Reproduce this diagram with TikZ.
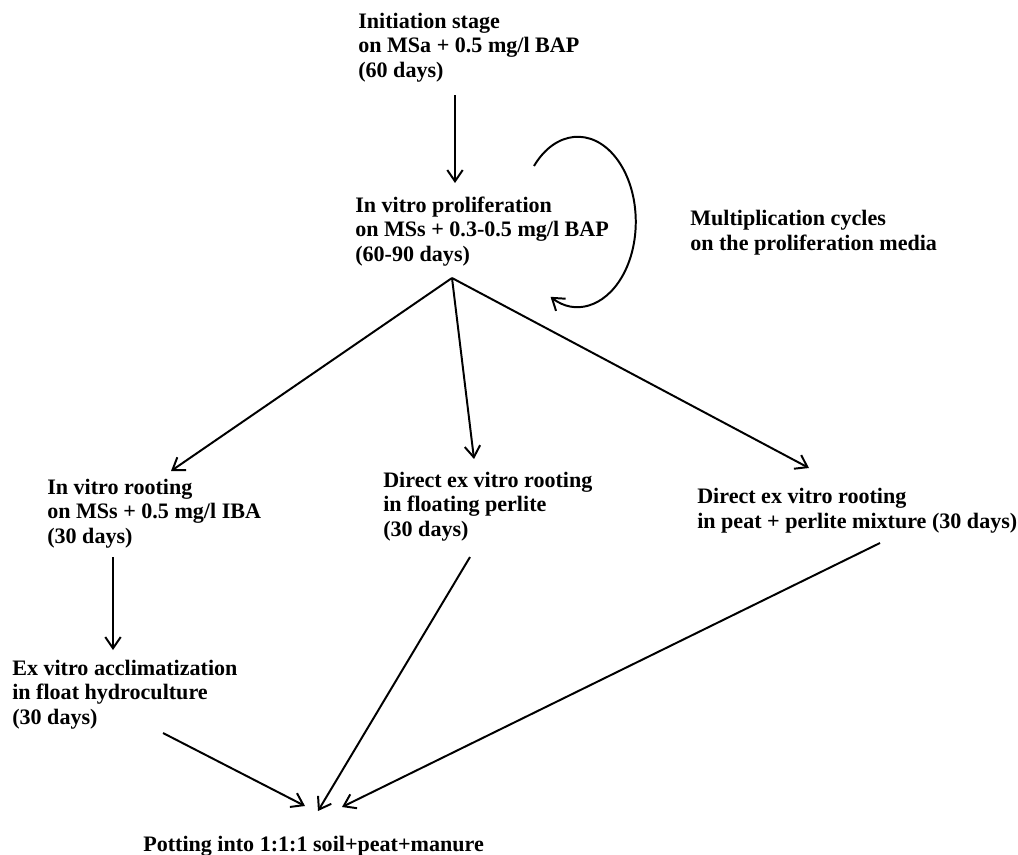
\documentclass[tikz,border=0pt]{standalone}
\usepackage{fontspec}
\setmainfont{Liberation Serif}
\usetikzlibrary{arrows.meta}

\begin{document}
\begin{tikzpicture}[x=0.025cm, y=-0.025cm, >={Straight Barb[length=8pt,width=11pt]},
  lbl/.style={anchor=base west, align=left, inner sep=0pt, font=\fontsize{15.7}{17.4}\selectfont\bfseries},
  flow/.style={->, line width=1.4pt}]

\useasboundingbox (0,0) rectangle (1018,854);

\node[lbl] (init) at (358,77) {Initiation stage\\on MSa + 0.5 mg/l BAP\\(60 days)};
\node[lbl] (prolif) at (355,261) {In vitro proliferation\\on MSs + 0.3-0.5 mg/l BAP\\(60-90 days)};
\node[lbl] (cycles) at (690,250) {Multiplication cycles\\on the proliferation media};
\node[lbl] (invitro) at (47,543) {In vitro rooting\\on MSs + 0.5 mg/l IBA\\(30 days)};
\node[lbl] (perlite) at (383,536) {Direct ex vitro rooting\\in floating perlite\\(30 days)};
\node[lbl] (peat) at (697,528) {Direct ex vitro rooting\\in peat + perlite mixture (30 days)};
\node[lbl] (acclim) at (12,724) {Ex vitro acclimatization\\in float hydroculture\\(30 days)};
\node[lbl] (potting) at (143,851) {Potting into 1:1:1 soil+peat+manure};

\coordinate (initOut) at (455,95);
\coordinate (prolifIn) at (455,183);
\coordinate (loopStart) at (534,166);
\coordinate (split) at (452,278);
\coordinate (invitroIn) at (171,471);
\coordinate (perliteIn) at (474,459);
\coordinate (peatIn) at (809,468);
\coordinate (invitroOut) at (113,557);
\coordinate (acclimIn) at (113,650);
\coordinate (acclimOut) at (163,733);
\coordinate (perliteOut) at (470,557);
\coordinate (peatOut) at (880,543);
\coordinate (potA) at (305,806);
\coordinate (potB) at (318,811);
\coordinate (potC) at (342,807);

\draw[flow] (initOut) -- (prolifIn);
\draw[flow] (loopStart) arc[start angle=-139, end angle=118, x radius=58, y radius=85];

\draw[flow] (split) -- (invitroIn);
\draw[flow] (split) -- (perliteIn);
\draw[flow] (split) -- (peatIn);

\draw[flow] (invitroOut) -- (acclimIn);

\draw[flow] (acclimOut) -- (potA);
\draw[flow] (perliteOut) -- (potB);
\draw[flow] (peatOut) -- (potC);

\end{tikzpicture}
\end{document}
